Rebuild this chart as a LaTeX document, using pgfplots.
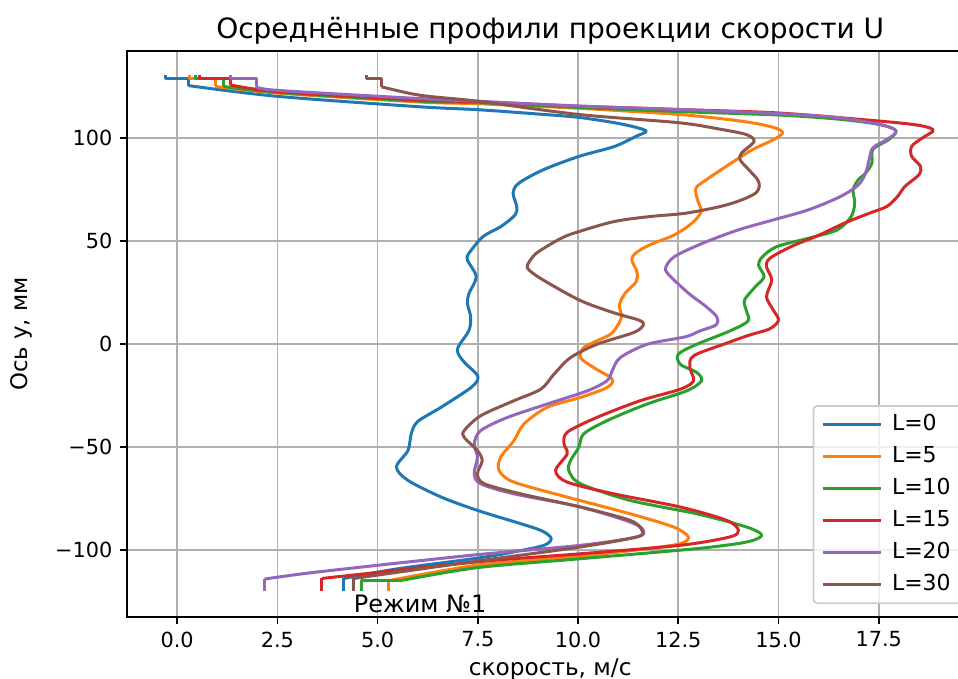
\documentclass[border=0pt]{standalone}
\usepackage{fontspec}
\setmainfont{DejaVu Sans}
\usepackage{pgfplots}
\pgfplotsset{compat=1.18}
\definecolor{c0}{HTML}{1F77B4}
\definecolor{c1}{HTML}{FF7F0E}
\definecolor{c2}{HTML}{2CA02C}
\definecolor{c3}{HTML}{D62728}
\definecolor{c4}{HTML}{9467BD}
\definecolor{c5}{HTML}{8C564B}
\begin{document}
\fontsize{10.4}{12.5}\selectfont
\begin{tikzpicture}
\path[use as bounding box, clip] (-63.5pt,-31pt) rectangle (415.5pt,308.5pt);
\begin{axis}[
  at={(0pt,0pt)}, anchor=south west,
  scale only axis, width=423.2pt, height=283pt,
  xmin=-1.25, xmax=19.86, ymin=-132.4, ymax=142.4,
  xtick={0,2.5,5,7.5,10,12.5,15,17.5},
  xticklabels={0.0,2.5,5.0,7.5,10.0,12.5,15.0,17.5},
  ytick={-100,-50,0,50,100},
  yticklabels={−100,−50,0,50,100},
  tick align=outside, xtick pos=left, ytick pos=left,
  major tick length=3.65pt,
  tick style={black, line width=0.83pt},
  axis line style={black, line width=0.83pt},
  grid=major, major grid style={color=black!31, line width=0.83pt},
  tick label style={font=\fontsize{10.4}{12.5}\selectfont},
  every axis title shift=0pt,
  title={Осреднённые профили проекции скорости U},
  title style={at={(axis description cs:0.5,1.0219)}, anchor=base, font=\fontsize{14}{17}\selectfont, inner sep=0pt},
  xlabel={скорость, м/с},
  xlabel style={at={(axis description cs:0.5,-0.1025)}, anchor=base, inner sep=0pt, font=\fontsize{11.6}{14}\selectfont},
  ylabel={Ось y, мм},
  ylabel style={at={(axis description cs:-0.117,0.5)}, anchor=base, inner sep=0pt, font=\fontsize{11.4}{14}\selectfont},
  legend style={
    at={(0.810,0.023)}, anchor=south west,
    draw=black!20, line width=0.83pt, rounded corners=2pt,
    fill=white, fill opacity=0.8, text opacity=1, draw opacity=1,
    inner xsep=4pt, inner ysep=1.3pt,
    row sep=0pt,
    nodes={inner xsep=5pt, inner ysep=3pt, text height=7.8pt, text depth=2.2pt},
    font=\fontsize{11}{13}\selectfont,
  },
  legend cell align=left,
  legend image code/.code={\path (0pt,0pt) -- (28.8pt,0pt);\draw[#1, line width=1.5pt, sharp corners] (0pt,0pt) -- (24.3pt,0pt);},
  every axis plot/.append style={line width=1.5pt, line join=round},
]
% ---------- L=0 ----------
\addplot[c0, smooth, tension=0.5] table {
0.28 125.6
2.49 120.4
6.06 115.3
7.5 113.9
9.0 111.8
10.0 110.2
10.9 107.6
11.45 105.3
11.7 103.4
11.45 101.0
10.9 96.0
10.02 91.2
9.13 84.7
8.52 78.2
8.38 73.4
8.47 66.9
8.43 62.8
8.07 57.1
7.63 52.3
7.28 44.2
7.24 40.9
7.46 32.8
7.28 24.7
7.24 19.8
7.32 13.3
7.28 6.8
7.01 -1.3
7.02 -5.0
7.2 -9.5
7.5 -15.5
7.35 -20.7
6.59 -30.5
6.0 -37.5
5.84 -43.4
5.76 -51.5
5.47 -59.6
5.76 -66.1
6.59 -74.2
7.5 -80.7
8.57 -87.1
9.1 -90.6
9.33 -94.2
9.15 -97.6
8.4 -100.8
7.5 -103.8
5.5 -109.0
4.16 -113.7
};
\addlegendentry{L=0}
\addplot[c0, forget plot] table {
-0.3 130.6
-0.3 129
0.28 129
0.28 125.6
};
\addplot[c0, forget plot] table {
4.16 -113.7
4.16 -120
};
% ---------- L=5 ----------
\addplot[c1, smooth, tension=0.5] table {
0.95 125.2
2.49 122.0
6.06 117.6
7.5 116.8
10.0 114.6
12.5 111.6
13.8 109.0
14.5 107.0
14.95 104.8
15.1 102.6
14.88 99.4
14.35 94.5
13.82 88.0
13.2 79.9
12.94 75.8
12.98 70.1
13.07 64.4
12.84 58.8
12.4 53.1
11.78 48.2
11.43 44.2
11.34 40.9
11.47 35.2
11.45 30.4
11.17 24.7
11.03 19.0
11.08 13.0
10.85 5.5
10.45 1.5
10.14 -1.6
10.06 -6.5
10.39 -11.3
10.85 -16.9
10.72 -21.0
10.06 -25.8
9.23 -30.6
8.65 -38.7
8.4 -46.8
8.07 -54.8
8.03 -61.3
8.4 -66.9
9.73 -74.2
11.3 -82.3
12.38 -88.7
12.75 -93.5
12.55 -96.8
11.72 -99.2
10.0 -103.0
7.5 -107.2
5.27 -114.8
};
\addlegendentry{L=5}
\addplot[c1, forget plot] table {
0.31 130.6
0.31 129
0.95 129
0.95 125.2
};
\addplot[c1, forget plot] table {
5.27 -114.8
5.27 -120
};
% ---------- L=10 ----------
\addplot[c2, smooth, tension=0.5] table {
1.15 125.2
2.49 122.3
6.06 118.0
7.5 117.3
10.0 115.0
12.5 113.0
15.0 111.3
16.5 109.3
17.5 106.8
17.88 104.5
17.92 102.6
17.75 99.4
17.35 94.5
17.33 88.0
17.17 83.1
16.99 79.9
16.86 75.0
16.9 68.5
16.81 62.0
16.46 55.5
15.75 51.5
14.95 47.4
14.6 42.5
14.5 38.5
14.64 32.8
14.42 27.9
14.15 21.4
14.2 16.1
14.24 11.3
13.79 6.5
12.96 0.0
12.5 -4.8
12.55 -9.7
12.96 -13.7
13.08 -17.7
12.71 -22.6
11.72 -29.0
10.72 -37.1
10.14 -43.5
10.02 -50.0
9.81 -56.5
9.77 -61.3
10.06 -67.7
11.3 -75.8
12.96 -82.3
14.2 -88.7
14.58 -92.7
14.2 -96.0
12.96 -99.2
10.0 -104.2
7.5 -108.4
5.64 -114.5
};
\addlegendentry{L=10}
\addplot[c2, forget plot] table {
0.45 130.6
0.45 129
1.15 129
1.15 125.2
};
\addplot[c2, forget plot] table {
5.64 -114.5
4.6 -114.5
4.6 -120
};
% ---------- L=15 ----------
\addplot[c3, smooth, tension=0.5] table {
1.32 126.0
2.49 122.7
6.06 118.6
7.5 117.7
10.0 115.6
12.5 114.0
15.0 112.3
17.5 108.4
18.4 106.6
18.78 105.0
18.85 103.4
18.59 100.2
18.32 96.1
18.32 91.2
18.54 86.4
18.5 82.3
18.15 76.6
17.97 71.8
17.7 66.9
17.26 63.6
16.64 58.8
16.02 53.1
15.31 47.4
14.78 41.7
14.7 37.7
14.83 31.2
14.7 23.1
14.87 16.6
15.0 11.7
14.78 7.5
14.26 4.4
13.7 0.5
12.88 -5.6
12.79 -11.3
12.88 -17.7
12.55 -21.8
11.55 -27.4
10.47 -35.5
9.73 -42.7
9.65 -48.4
9.73 -53.2
9.44 -61.3
9.73 -66.9
10.89 -72.6
12.55 -79.0
13.71 -85.5
14.0 -90.3
13.79 -93.5
12.55 -97.6
10.0 -101.8
7.5 -105.6
3.61 -113.7
};
\addlegendentry{L=15}
\addplot[c3, forget plot] table {
0.55 130.6
0.55 129
1.32 129
1.32 126
};
\addplot[c3, forget plot] table {
3.61 -113.7
3.61 -120
};
% ---------- L=20 ----------
\addplot[c4, smooth, tension=0.5] table {
1.97 125.2
2.49 123.3
6.06 119.3
7.5 118.0
10.0 115.7
12.5 114.0
15.0 112.0
16.5 110.0
17.5 106.8
17.88 104.5
17.92 102.6
17.7 99.4
17.35 95.3
17.26 89.6
17.17 83.1
16.99 77.4
16.55 71.8
15.75 65.3
14.87 60.4
13.99 55.5
13.1 49.0
12.4 42.5
12.18 36.9
12.31 32.8
12.76 24.7
13.2 18.2
13.46 13.3
13.45 9.5
13.04 6.5
12.67 3.6
11.72 0.0
11.05 -6.5
10.85 -12.9
10.72 -17.7
10.23 -22.6
9.23 -29.0
8.24 -35.5
7.57 -41.9
7.41 -48.4
7.49 -54.8
7.41 -62.9
7.57 -67.7
8.4 -72.6
10.06 -79.0
11.3 -86.3
11.63 -90.3
11.47 -93.5
10.06 -97.6
7.3 -102.5
3.52 -110.5
2.18 -114.0
};
\addlegendentry{L=20}
\addplot[c4, forget plot] table {
1.32 130.6
1.32 129
1.97 129
1.97 125.2
};
\addplot[c4, forget plot] table {
2.18 -114.0
2.18 -120
};
% ---------- L=30 ----------
\addplot[c5, smooth, tension=0.5] table {
5.1 125.0
6.06 120.9
7.5 118.0
10.0 111.6
12.5 107.6
13.55 104.4
14.2 101.8
14.39 98.5
14.08 92.9
14.04 89.6
14.26 84.7
14.48 79.9
14.52 76.6
14.43 73.4
14.08 70.1
13.55 66.9
12.67 63.6
11.78 62.0
10.9 59.6
10.02 54.7
9.58 51.5
8.96 44.2
8.74 38.5
8.78 36.0
9.13 31.2
10.05 21.3
10.89 15.3
11.52 11.7
11.63 9.5
11.4 5.8
10.47 0.0
9.81 -6.5
9.4 -14.5
9.07 -21.8
8.4 -27.4
7.57 -34.7
7.16 -41.9
7.16 -45.2
7.49 -51.6
7.61 -56.5
7.49 -62.9
7.66 -67.7
8.57 -72.6
10.06 -79.0
11.3 -85.5
11.59 -90.3
11.47 -93.5
10.06 -98.4
7.5 -105.2
4.4 -113.7
};
\addlegendentry{L=30}
\addplot[c5, forget plot] table {
4.73 130.6
4.73 129
5.1 129
5.1 125.0
};
\addplot[c5, forget plot] table {
4.4 -113.7
4.4 -120
};
\node[anchor=base west, inner sep=0pt, font=\fontsize{12}{14}\selectfont] at (axis cs:4.4,-130) {Режим №1};
\end{axis}
\end{tikzpicture}
\end{document}
